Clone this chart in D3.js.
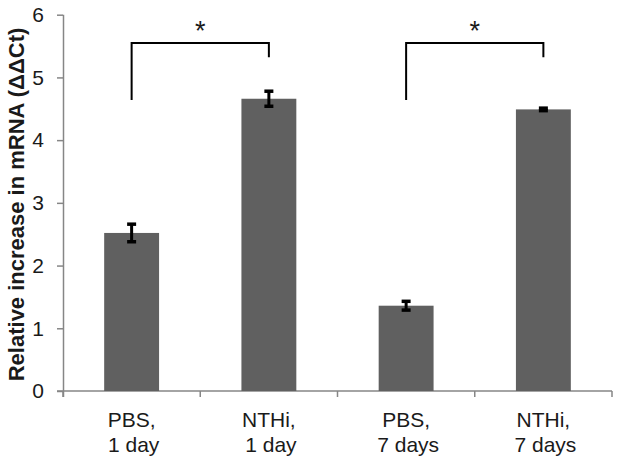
<!DOCTYPE html>
<html>
<head>
<meta charset="utf-8">
<script src="https://cdn.jsdelivr.net/npm/d3@7"></script>
<style>
  html, body { margin: 0; padding: 0; background: #fff; }
  svg { display: block; }
  text { font-family: "Liberation Sans", Arial, sans-serif; fill: #1a1a1a; }
</style>
</head>
<body>
<svg id="chart" width="621" height="464"></svg>
<script>
// ---- data ----
const categories = ["PBS,\n1 day", "NTHi,\n1 day", "PBS,\n7 days", "NTHi,\n7 days"];
const values = [2.52, 4.66, 1.36, 4.49];
const errors = [0.14, 0.12, 0.07, 0.02];
const yTicks = [0, 1, 2, 3, 4, 5, 6];
const yLabel = "Relative increase in mRNA (\u0394\u0394Ct)";
// significance brackets
const bracketFrom = [0, 2];
const bracketTo = [1, 3];
const bracketTop = [5.55, 5.55];
const bracketLeftEnd = [4.64, 4.64];
const bracketRightEnd = [5.32, 5.32];
const bracketLabels = ["*", "*"];

// ---- layout ----
const svg = d3.select("#chart");
const mLeft = 63, mRight = 612, mTop = 14.7, mBottom = 391;

const y = d3.scaleLinear().domain([0, 6]).range([mBottom, mTop]);
const xCat = d3.scaleBand().domain(d3.range(categories.length)).range([mLeft, mRight]).padding(0);
const xBar = d3.scaleBand().domain(d3.range(categories.length)).range([mLeft, mRight])
  .paddingInner(0.6).paddingOuter(0.3);

const axisColor = "#868686";

// y axis
const yAxis = svg.append("g").attr("transform", `translate(${mLeft},0)`)
  .call(d3.axisLeft(y).tickValues(yTicks).tickSize(6).tickSizeOuter(0).tickPadding(13).tickFormat(d3.format("d")));
yAxis.select(".domain").attr("stroke", axisColor).attr("stroke-width", 1.5)
  .attr("d", `M0.5,${y(6)}V${mBottom + 6}`);
yAxis.selectAll(".tick line").attr("stroke", axisColor).attr("stroke-width", 1.5);
yAxis.selectAll(".tick text").attr("font-size", 21).attr("fill", "#1a1a1a")
  .attr("font-family", "Liberation Sans, Arial, sans-serif");

// x axis (category boundaries as ticks)
const xAxisG = svg.append("g");
xAxisG.append("line").attr("x1", mLeft - 6).attr("x2", mRight).attr("y1", mBottom).attr("y2", mBottom)
  .attr("stroke", axisColor).attr("stroke-width", 1.5);
const boundaries = d3.range(categories.length + 1).map(i => i < categories.length ? xCat(i) : xCat(i - 1) + xCat.bandwidth());
xAxisG.selectAll("line.tk").data(boundaries).join("line").attr("class", "tk")
  .attr("x1", d => d).attr("x2", d => d).attr("y1", mBottom).attr("y2", mBottom + 6)
  .attr("stroke", axisColor).attr("stroke-width", 1.5);

// x labels
const xl = svg.append("g").selectAll("text").data(categories).join("text")
  .attr("text-anchor", "middle").attr("font-size", 21)
  .attr("x", (d, i) => xCat(i) + xCat.bandwidth() / 2)
  .attr("y", 427);
xl.each(function (d, i) {
  const t = d3.select(this);
  d.split("\n").forEach((line, j) => {
    t.append("tspan").attr("x", xCat(i) + xCat.bandwidth() / 2 + (j ? 2 : 0)).attr("dy", j ? 25 : 0).text(line);
  });
});

// bars
svg.append("g").selectAll("rect").data(values).join("rect")
  .attr("x", (d, i) => xBar(i)).attr("width", xBar.bandwidth())
  .attr("y", d => y(d)).attr("height", d => y(0) - y(d))
  .attr("fill", "#606060");

// error bars
const eg = svg.append("g").attr("stroke", "#000").attr("fill", "none");
values.forEach((v, i) => {
  const cx = xBar(i) + xBar.bandwidth() / 2;
  const y1 = y(v + errors[i]), y2 = y(v - errors[i]);
  eg.append("line").attr("x1", cx).attr("x2", cx).attr("y1", y1).attr("y2", y2).attr("stroke-width", 3);
  eg.append("line").attr("x1", cx - 4.5).attr("x2", cx + 4.5).attr("y1", y1).attr("y2", y1).attr("stroke-width", 3.5);
  eg.append("line").attr("x1", cx - 4.5).attr("x2", cx + 4.5).attr("y1", y2).attr("y2", y2).attr("stroke-width", 3.5);
});

// significance brackets
const bg = svg.append("g");
bracketFrom.forEach((f, k) => {
  const x1 = xBar(f) + xBar.bandwidth() / 2;
  const x2 = xBar(bracketTo[k]) + xBar.bandwidth() / 2;
  bg.append("path")
    .attr("d", `M${x1},${y(bracketLeftEnd[k])}V${y(bracketTop[k])}H${x2}V${y(bracketRightEnd[k])}`)
    .attr("fill", "none").attr("stroke", "#000").attr("stroke-width", 2);
  bg.append("text").attr("x", (x1 + x2) / 2).attr("y", y(bracketTop[k]) - 3)
    .attr("text-anchor", "middle").attr("font-size", 27).attr("fill", "#000").text(bracketLabels[k]);
});

// y label
svg.append("text")
  .attr("transform", `translate(24,204.5) rotate(-90)`)
  .attr("text-anchor", "middle").attr("font-weight", "bold").attr("font-size", 22)
  .text(yLabel);
</script>
</body>
</html>
